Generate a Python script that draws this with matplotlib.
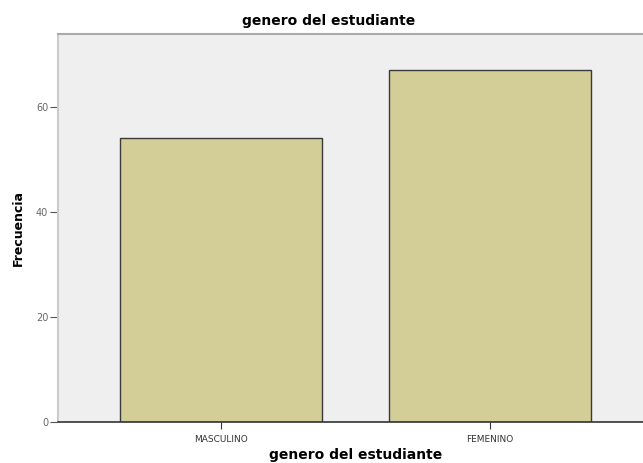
import matplotlib
matplotlib.use("Agg")
import matplotlib.pyplot as plt

categorias = ["MASCULINO", "FEMENINO"]
frecuencias = [54, 67]
ticks_y = [0, 20, 40, 60]

plt.rcParams['font.family'] = ['DejaVu Sans']

fig = plt.figure(figsize=(6.43, 4.63), dpi=100)
fig.patch.set_facecolor('white')
ax = fig.add_axes([58 / 643, 41 / 463, 585 / 643, 388 / 463])
ax.set_facecolor('#efefef')

x = list(range(len(categorias)))
ax.bar(x, frecuencias, width=0.75, color='#d3ce97', edgecolor='#3a3a3a', linewidth=1.0, zorder=3)

ax.set_xlim(-0.606, 1.569)
ax.set_ylim(0, 73.8)
ax.set_xticks(x)
ax.set_xticklabels(categorias, fontsize=6.5, color='#333333')
ax.set_yticks(ticks_y)
ax.set_yticklabels([str(t) for t in ticks_y], fontsize=7, color='#666666')
ax.tick_params(axis='y', length=6, width=0.8, color='#555555', pad=1)
ax.tick_params(axis='x', length=5, width=0.8, color='#333333', pad=4)

ax.spines['right'].set_visible(False)
ax.spines['top'].set_color('#aaaaaa')
ax.spines['top'].set_linewidth(1.5)
ax.spines['left'].set_color('#cccccc')
ax.spines['left'].set_linewidth(1.5)
ax.spines['bottom'].set_color('#333333')
ax.spines['bottom'].set_linewidth(1.2)
ax.spines['bottom'].set_zorder(4)

ax.set_ylabel("Frecuencia", fontsize=9, fontweight='bold')
ax.yaxis.set_label_coords(-33 / 585, 0.5)
ax.set_xlabel("genero del estudiante", fontsize=10, fontweight='bold')
ax.xaxis.set_label_coords(298 / 585, -26 / 388)
fig.text(329 / 643, 1 - 21 / 463, "genero del estudiante", fontsize=10, fontweight='bold',
         ha='center', va='center')

fig.savefig("out.png", dpi=100)
